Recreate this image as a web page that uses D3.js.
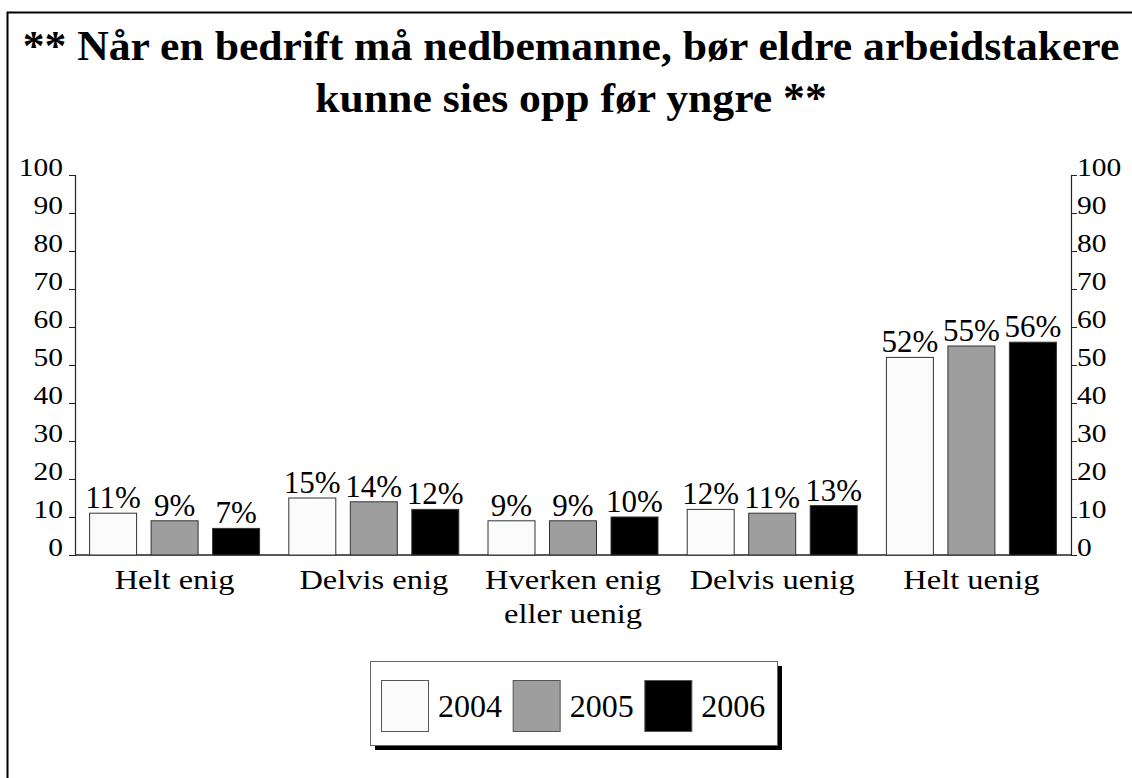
<!DOCTYPE html>
<html>
<head>
<meta charset="utf-8">
<script src="https://cdn.jsdelivr.net/npm/d3@7"></script>
</head>
<body style="margin:0;padding:0;background:white">
<div id="main"></div>
<script>
const w = 1132;
const h = 778;
const serif = 'Liberation Serif';

// data
const titleLines = ['** Når en bedrift må nedbemanne, bør eldre arbeidstakere', 'kunne sies opp før yngre **'];
const categories = ['Helt enig', 'Delvis enig', 'Hverken enig eller uenig', 'Delvis uenig', 'Helt uenig'];
const years = ['2004', '2005', '2006'];
const values2004 = [11, 15, 9, 12, 52];
const values2005 = [9, 14, 9, 11, 55];
const values2006 = [7, 12, 10, 13, 56];
const yTicks = [0, 10, 20, 30, 40, 50, 60, 70, 80, 90, 100];
const colors = ['#fbfbfb', '#9e9e9e', '#000000'];

const series = [values2004, values2005, values2006];

const plotLeft = 75, plotRight = 1071, plotTop = 175, plotBottom = 555;

// the original type is a bit wider than Liberation Serif
const titleStretch = 1.04, tickStretch = 1.18, catStretch = 1.16;

const svg = d3.select('#main')
              .append('svg')
              .attr('width', w)
              .attr('height', h);

// outer frame (runs off the right and bottom edge)
svg.append('rect')
   .attr('x', 7.5)
   .attr('y', 12.5)
   .attr('width', w + 20)
   .attr('height', h + 20)
   .attr('fill', 'white')
   .attr('stroke', '#000')
   .attr('stroke-width', 2);

svg.selectAll('.title')
   .data(titleLines)
   .enter()
   .append('text')
   .attr('class', 'title')
   .attr('transform', (d, i) => 'translate(571,' + (60 + i * 52) + ') scale(' + titleStretch + ',1)')
   .attr('text-anchor', 'middle')
   .attr('font-family', serif)
   .attr('font-size', 42)
   .attr('font-weight', 'bold')
   .text(d => d);

const xScale = d3.scaleBand()
                 .domain(categories)
                 .range([plotLeft, plotRight])
                 .padding(0);

const xInner = d3.scaleBand()
                 .domain(years)
                 .range([0, xScale.bandwidth()])
                 .paddingInner(0.236)
                 .paddingOuter(0.2375);

const yScale = d3.scaleLinear()
                 .domain([0, 100])
                 .range([plotBottom, plotTop]);

// y axes left and right
const yAxisL = d3.axisLeft(yScale).tickValues(yTicks).tickSize(6).tickPadding(6);
const yAxisR = d3.axisRight(yScale).tickValues(yTicks).tickSize(6).tickPadding(0);

const gl = svg.append('g')
   .attr('transform', 'translate(' + plotLeft + ',0)')
   .call(yAxisL);
const gr = svg.append('g')
   .attr('transform', 'translate(' + plotRight + ',0)')
   .call(yAxisR);

[gl, gr].forEach((g, k) => {
  g.attr('font-family', serif).attr('font-size', 25);
  g.select('.domain').attr('stroke', '#222').attr('stroke-width', 1.2);
  g.selectAll('.tick line').attr('stroke', '#222');
  g.selectAll('.tick text')
   .attr('fill', '#000')
   .attr('dy', '0')
   .attr('x', (k === 0 ? -12 : 6) / tickStretch)
   .attr('transform', 'scale(' + tickStretch + ',1)');
});

// baseline
svg.append('line')
   .attr('x1', plotLeft).attr('x2', plotRight)
   .attr('y1', yScale(0)).attr('y2', yScale(0))
   .attr('stroke', '#222')
   .attr('stroke-width', 1.5);

// bars
const groups = svg.selectAll('.grp')
   .data(categories)
   .enter()
   .append('g')
   .attr('class', 'grp')
   .attr('transform', d => 'translate(' + xScale(d) + ',0)');

groups.selectAll('rect')
   .data((d, i) => years.map((y, j) => ({year: y, j: j, v: series[j][i]})))
   .enter()
   .append('rect')
   .attr('x', d => xInner(d.year))
   .attr('y', d => yScale(d.v))
   .attr('width', xInner.bandwidth())
   .attr('height', d => yScale(0) - yScale(d.v))
   .attr('fill', d => colors[d.j])
   .attr('stroke', '#333')
   .attr('stroke-width', 1);

groups.selectAll('.val')
   .data((d, i) => years.map((y, j) => ({year: y, j: j, v: series[j][i]})))
   .enter()
   .append('text')
   .attr('class', 'val')
   .attr('x', d => xInner(d.year) + xInner.bandwidth() / 2)
   .attr('y', d => yScale(d.v) - 5)
   .attr('text-anchor', 'middle')
   .attr('font-family', serif)
   .attr('font-size', 31)
   .text(d => d.v + '%');

// category labels, wrapped to the group width
groups.append('text')
   .attr('class', 'cat')
   .attr('text-anchor', 'middle')
   .attr('font-family', serif)
   .attr('font-size', 28)
   .attr('transform', 'scale(' + catStretch + ',1)')
   .each(function(d) {
     const t = d3.select(this);
     const words = d.split(' ');
     let lines = [], line = [];
     const probe = t.append('tspan');
     words.forEach(wd => {
       line.push(wd);
       probe.text(line.join(' '));
       if (probe.node().getComputedTextLength() * catStretch > 190 && line.length > 1) {
         line.pop();
         lines.push(line.join(' '));
         line = [wd];
       }
     });
     lines.push(line.join(' '));
     probe.remove();
     lines.forEach((l, k) => {
       t.append('tspan')
        .attr('x', xScale.bandwidth() / 2 / catStretch)
        .attr('y', 589 + k * 34)
        .text(l);
     });
   });

// legend
const lg = svg.append('g').attr('transform', 'translate(370,661)');
lg.append('rect')
  .attr('x', 5).attr('y', 5)
  .attr('width', 407).attr('height', 84)
  .attr('fill', '#000');
lg.append('rect')
  .attr('x', 0.5).attr('y', 0.5)
  .attr('width', 407).attr('height', 84)
  .attr('fill', '#fff')
  .attr('stroke', '#666')
  .attr('stroke-width', 1);

const legendX = d3.scaleBand()
                  .domain(years)
                  .range([11, 406])
                  .padding(0);

const item = lg.selectAll('.item')
  .data(years)
  .enter()
  .append('g')
  .attr('class', 'item')
  .attr('transform', d => 'translate(' + legendX(d) + ',0)');

item.append('rect')
    .attr('x', 0.5).attr('y', 19.5)
    .attr('width', 47).attr('height', 51)
    .attr('fill', (d, i) => colors[i])
    .attr('stroke', '#555')
    .attr('stroke-width', 1);

item.append('text')
    .attr('x', 57)
    .attr('y', 56)
    .attr('font-family', serif)
    .attr('font-size', 32)
    .text(d => d);
</script>
</body>
</html>
